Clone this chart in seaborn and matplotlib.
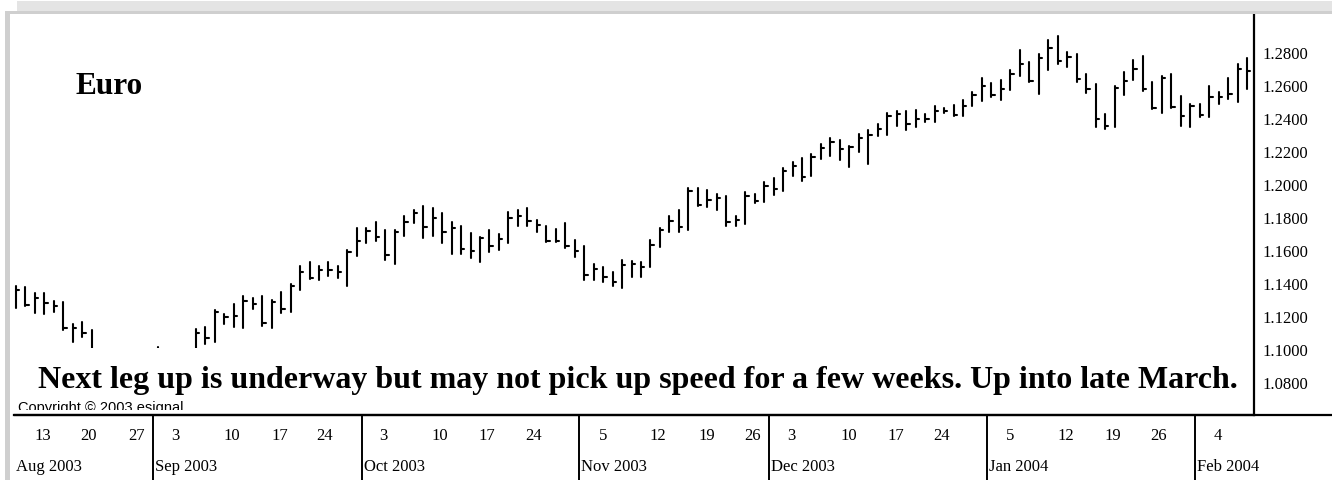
import numpy as np
import pandas as pd
import seaborn as sns
import matplotlib.pyplot as plt
from matplotlib.patches import Rectangle
from matplotlib.lines import Line2D

# daily HLC bars, EUR/USD, 11 Aug 2003 - 9 Feb 2004
high = [1.1386, 1.1376, 1.1341, 1.1339, 1.1291, 1.1285, 1.1153, 1.1163, 1.1119, 1.0990,
        1.0950, 1.0940, 1.0960, 1.0930, 1.0900, 1.1012, 1.0900, 1.0960, 1.0990, 1.1123,
        1.1133, 1.1240, 1.1214, 1.1275, 1.1325, 1.1311, 1.1325, 1.1299, 1.1349, 1.1396,
        1.1507, 1.1527, 1.1507, 1.1531, 1.1507, 1.1602, 1.1733, 1.1735, 1.1774, 1.1725,
        1.1725, 1.1810, 1.1846, 1.1871, 1.1856, 1.1824, 1.1774, 1.1749, 1.1703, 1.1683,
        1.1725, 1.1699, 1.1830, 1.1844, 1.1856, 1.1786, 1.1749, 1.1729, 1.1763, 1.1664,
        1.1624, 1.1517, 1.1497, 1.1471, 1.1543, 1.1537, 1.1529, 1.1662, 1.1733, 1.1810,
        1.1846, 1.1975, 1.1975, 1.1967, 1.1941, 1.1927, 1.1806, 1.1955, 1.1941, 1.2016,
        1.2036, 1.2100, 1.2137, 1.2159, 1.2184, 1.2244, 1.2281, 1.2268, 1.2230, 1.2305,
        1.2329, 1.2365, 1.2430, 1.2442, 1.2442, 1.2452, 1.2426, 1.2477, 1.2462, 1.2481,
        1.2513, 1.2561, 1.2644, 1.2614, 1.2634, 1.2695, 1.2816, 1.2743, 1.2790, 1.2877,
        1.2901, 1.2804, 1.2790, 1.2668, 1.2608, 1.2426, 1.2598, 1.2683, 1.2753, 1.2780,
        1.2622, 1.2658, 1.2668, 1.2537, 1.2487, 1.2487, 1.2598, 1.2557, 1.2642, 1.2729,
        1.2763]
low = [1.1250, 1.1264, 1.1218, 1.1214, 1.1228, 1.1119, 1.1046, 1.1073, 1.0960, 1.0900,
       1.0860, 1.0850, 1.0880, 1.0800, 1.0780, 1.0850, 1.0770, 1.0790, 1.0910, 1.0960,
       1.1032, 1.1046, 1.1153, 1.1133, 1.1129, 1.1244, 1.1143, 1.1129, 1.1220, 1.1228,
       1.1361, 1.1426, 1.1422, 1.1442, 1.1430, 1.1382, 1.1567, 1.1642, 1.1654, 1.1543,
       1.1517, 1.1689, 1.1763, 1.1675, 1.1689, 1.1642, 1.1578, 1.1578, 1.1553, 1.1531,
       1.1592, 1.1604, 1.1642, 1.1749, 1.1749, 1.1713, 1.1652, 1.1652, 1.1614, 1.1557,
       1.1422, 1.1422, 1.1410, 1.1386, 1.1371, 1.1440, 1.1440, 1.1497, 1.1618, 1.1709,
       1.1713, 1.1725, 1.1870, 1.1860, 1.1846, 1.1745, 1.1745, 1.1759, 1.1887, 1.1895,
       1.1935, 1.1960, 1.2048, 1.2020, 1.2052, 1.2153, 1.2174, 1.2149, 1.2103, 1.2198,
       1.2123, 1.2295, 1.2299, 1.2355, 1.2329, 1.2345, 1.2380, 1.2380, 1.2432, 1.2416,
       1.2416, 1.2477, 1.2503, 1.2527, 1.2513, 1.2571, 1.2658, 1.2622, 1.2547, 1.2693,
       1.2729, 1.2709, 1.2622, 1.2553, 1.2345, 1.2335, 1.2345, 1.2541, 1.2634, 1.2563,
       1.2456, 1.2432, 1.2460, 1.2355, 1.2345, 1.2406, 1.2406, 1.2487, 1.2517, 1.2501,
       1.2578]
close = [1.1361, 1.1269, 1.1309, 1.1279, 1.1260, 1.1129, 1.1127, 1.1099, 1.0985, 1.0930,
         1.0875, 1.0910, 1.0900, 1.0820, 1.0860, 1.0880, 1.0800, 1.0940, 1.0970, 1.1099,
         1.1066, 1.1224, 1.1194, 1.1200, 1.1295, 1.1275, 1.1157, 1.1285, 1.1244, 1.1386,
         1.1467, 1.1430, 1.1481, 1.1481, 1.1466, 1.1588, 1.1658, 1.1719, 1.1683, 1.1574,
         1.1713, 1.1769, 1.1827, 1.1743, 1.1794, 1.1709, 1.1733, 1.1608, 1.1598, 1.1673,
         1.1624, 1.1669, 1.1794, 1.1810, 1.1780, 1.1753, 1.1658, 1.1658, 1.1624, 1.1598,
         1.1450, 1.1487, 1.1436, 1.1406, 1.1511, 1.1517, 1.1499, 1.1630, 1.1725, 1.1780,
         1.1739, 1.1961, 1.1876, 1.1905, 1.1915, 1.1769, 1.1784, 1.1931, 1.1901, 1.1992,
         1.1971, 1.2081, 1.2113, 1.2045, 1.2163, 1.2218, 1.2254, 1.2214, 1.2224, 1.2279,
         1.2299, 1.2335, 1.2416, 1.2426, 1.2365, 1.2396, 1.2396, 1.2446, 1.2446, 1.2420,
         1.2477, 1.2541, 1.2594, 1.2541, 1.2578, 1.2668, 1.2729, 1.2628, 1.2763, 1.2824,
         1.2749, 1.2770, 1.2638, 1.2578, 1.2396, 1.2355, 1.2582, 1.2628, 1.2699, 1.2578,
         1.2460, 1.2644, 1.2470, 1.2416, 1.2473, 1.2420, 1.2527, 1.2527, 1.2547, 1.2699,
         1.2689]
dates = pd.bdate_range("2003-08-11", "2004-02-09")

price_ticks = [1.08, 1.10, 1.12, 1.14, 1.16, 1.18, 1.20, 1.22, 1.24, 1.26, 1.28]
day_labels = ["13", "20", "27", "3", "10", "17", "24", "3", "10", "17", "24",
              "5", "12", "19", "26", "3", "10", "17", "24", "5", "12", "19", "26", "4"]
# label centres, in bar units
day_pos = [2.88, 7.63, 12.75, 16.79, 22.78, 27.88, 32.63, 38.79, 44.77, 49.70, 54.70,
           62.02, 67.82, 72.93, 77.79, 81.91, 87.89, 92.93, 97.75, 104.96, 110.88,
           115.87, 120.62, 126.89]

df = pd.DataFrame({"date": dates, "high": high, "low": low, "close": close})
df["i"] = np.arange(len(df))

# long form tables so seaborn draws one line per bar
bars = pd.concat([df[["i"]].assign(x=df["i"], y=df["low"]),
                  df[["i"]].assign(x=df["i"], y=df["high"])])
ticks = pd.concat([df[["i"]].assign(x=df["i"], y=df["close"]),
                   df[["i"]].assign(x=df["i"] + 0.36, y=df["close"])])

sns.set_style("white")
plt.rcParams["font.family"] = ["Liberation Serif", "DejaVu Serif"]
plt.rcParams["text.color"] = "black"
plt.rcParams["ytick.color"] = "black"

W, H = 1332, 481
fig = plt.figure(figsize=(W / 100, H / 100), dpi=100)


def box(x0, y0, x1, y1):
    return [x0 / W, 1 - y1 / H, (x1 - x0) / W, (y1 - y0) / H]


ax = fig.add_axes(box(14, 15, 1254, 416))
axd = fig.add_axes(box(14, 416, 1254, 481))

sns.lineplot(data=bars, x="x", y="y", units="i", estimator=None, sort=False,
             color="black", lw=1.5, ax=ax)
sns.lineplot(data=ticks, x="x", y="y", units="i", estimator=None, sort=False,
             color="black", lw=1.5, ax=ax)

xlim = (-0.21, 130.73)
ax.set_xlim(xlim)
ax.set_ylim(1.06018, 1.30321)
ax.set_xlabel("")
ax.set_ylabel("")
ax.set_xticks([])
ax.yaxis.tick_right()
ax.set_yticks(price_ticks)
ax.set_yticklabels([f"{v:.4f}" for v in price_ticks], fontsize=12, color="black")
ax.tick_params(axis="y", length=0, pad=6)
for s in ["top", "left"]:
    ax.spines[s].set_visible(False)
for s in ["right", "bottom"]:
    ax.spines[s].set_color("black")
    ax.spines[s].set_linewidth(1.6)
    ax.spines[s].set_zorder(10)

# white box under the comment hides the lowest bars
ax.add_patch(Rectangle((0, 0), 1, 67 / 401, transform=ax.transAxes,
                       facecolor="white", edgecolor="none", zorder=5))

# date strip
axd.set_xlim(xlim)
axd.set_ylim(0, 1)
axd.axis("off")
month_start = np.flatnonzero(dates.month != np.roll(dates.month, 1))
for k in month_start[1:]:
    axd.axvline(k - 0.5, color="black", lw=1.4)
for k in month_start:
    axd.text(max(k - 0.5, -0.21) + 0.2, 0.21, dates[k].strftime("%b %Y"),
             ha="left", va="center", fontsize=12)
for p, lab in zip(day_pos, day_labels):
    axd.text(p, 0.69, lab, ha="center", va="center", fontsize=12)

fig.add_artist(Line2D([14 / W, 1], [1 - 416 / H] * 2, color="black", lw=1.6))

# window frame
fig.add_artist(Rectangle((17 / W, 1 - 12 / H), 1, 10 / H, transform=fig.transFigure,
                         facecolor="#e4e4e4", edgecolor="none"))
fig.add_artist(Rectangle((5 / W, 1 - 15 / H), 1, 3 / H, transform=fig.transFigure,
                         facecolor="#cfcfcf", edgecolor="none"))
fig.add_artist(Rectangle((5 / W, 0), 5 / W, 1 - 12 / H, transform=fig.transFigure,
                         facecolor="#cfcfcf", edgecolor="none"))

fig.text(75 / W, 1 - 94 / H, "Euro", fontsize=22.5, fontweight="bold",
         va="baseline", ha="left")
fig.text(38 / W, 1 - 388 / H,
         "Next leg up is underway but may not pick up speed for a few weeks. Up into late March.",
         fontsize=23, fontweight="bold", va="baseline", ha="left", zorder=6)
cp = fig.text(18 / W, 1 - 412 / H, "Copyright \u00a9 2003 esignal.", fontsize=10.5,
              family=["Liberation Sans", "DejaVu Sans"], va="baseline", ha="left")
cp.set_clip_path(Rectangle((0, 1 - 411 / H), 1, 1, transform=fig.transFigure))

fig.savefig("out.png", dpi=100)
